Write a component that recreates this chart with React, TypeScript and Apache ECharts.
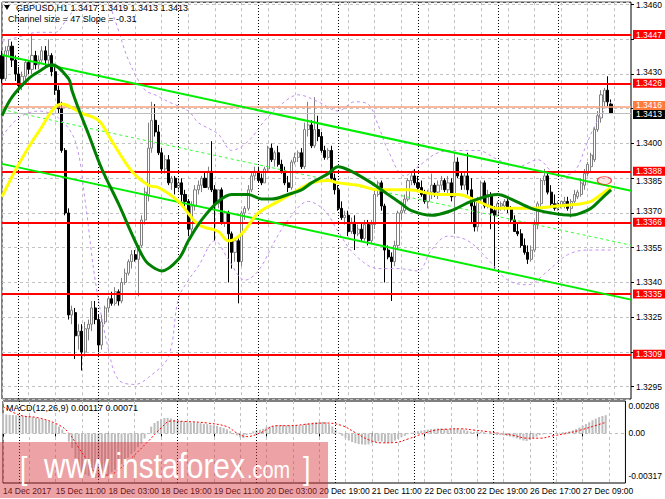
import React, { useEffect, useRef } from "react";
import * as echarts from "echarts";

const FONT = "'Liberation Sans', Arial, sans-serif";
const AXIS_FS = 8.5;

const symbolLabel = "GBPUSD,H1";
const channelLabel = "Channel size = 47 Slope = -0.31";
const macdLabel = "MACD(12,26,9)";

const slotCount = 190;
const xTickStep = 16;
const xTickLabels = [
  "14 Dec 2017", "15 Dec 11:00", "18 Dec 03:00", "18 Dec 19:00", "19 Dec 11:00", "20 Dec 03:00",
  "20 Dec 19:00", "21 Dec 11:00", "22 Dec 03:00", "22 Dec 19:00", "26 Dec 17:00", "27 Dec 09:00",
];
const dayStartIndex = [5, 29, 53, 77, 101, 125, 149, 167];

const openP = [
  1.3438, 1.3428, 1.3440, 1.3442, 1.3436, 1.3430, 1.3425, 1.3429, 1.3435, 1.3432,
  1.3438, 1.3434, 1.3436, 1.3440, 1.3436, 1.3438, 1.3431, 1.3423, 1.3415, 1.3397,
  1.3370, 1.3326, 1.3327, 1.3317, 1.3319, 1.3310, 1.3320, 1.3322, 1.3329, 1.3324,
  1.3313, 1.3323, 1.3329, 1.3333, 1.3331, 1.3336, 1.3332, 1.3340, 1.3344, 1.3349,
  1.3352, 1.3350, 1.3356, 1.3367, 1.3378, 1.3398, 1.3410, 1.3405, 1.3396, 1.3389,
  1.3393, 1.3383, 1.3385, 1.3381, 1.3383, 1.3378, 1.3375, 1.3363, 1.3373, 1.3380,
  1.3382, 1.3385, 1.3381, 1.3388, 1.3380, 1.3374, 1.3380, 1.3366, 1.3370, 1.3361,
  1.3353, 1.3358, 1.3349, 1.3370, 1.3372, 1.3380, 1.3386, 1.3388, 1.3385, 1.3383,
  1.3389, 1.3398, 1.3393, 1.3396, 1.3391, 1.3388, 1.3383, 1.3381, 1.3392, 1.3394,
  1.3396, 1.3390, 1.3406, 1.3408, 1.3399, 1.3406, 1.3403, 1.3397, 1.3394, 1.3397,
  1.3385, 1.3380, 1.3372, 1.3368, 1.3369, 1.3362, 1.3366, 1.3361, 1.3363, 1.3359,
  1.3365, 1.3358, 1.3365, 1.3378, 1.3383, 1.3373, 1.3354, 1.3351, 1.3349, 1.3356,
  1.3370, 1.3371, 1.3376, 1.3384, 1.3386, 1.3383, 1.3381, 1.3378, 1.3375, 1.3379,
  1.3382, 1.3379, 1.3382, 1.3384, 1.3380, 1.3383, 1.3377, 1.3392, 1.3386, 1.3382,
  1.3386, 1.3380, 1.3373, 1.3364, 1.3376, 1.3383, 1.3373, 1.3378, 1.3371, 1.3369,
  1.3373, 1.3373, 1.3375, 1.3372, 1.3367, 1.3362, 1.3361, 1.3356, 1.3353, 1.3350,
  1.3354, 1.3365, 1.3374, 1.3384, 1.3386, 1.3379, 1.3374, 1.3372, 1.3373, 1.3374,
  1.3375, 1.3372, 1.3375, 1.3377, 1.3378, 1.3382, 1.3387, 1.3390, 1.3393, 1.3406,
  1.3411, 1.3418, 1.3423, 1.3417,
];
const highP = [
  1.3440, 1.3442, 1.3445, 1.3444, 1.3438, 1.3433, 1.3431, 1.3436, 1.3436, 1.3447,
  1.3440, 1.3438, 1.3442, 1.3442, 1.3445, 1.3439, 1.3433, 1.3425, 1.3418, 1.3398,
  1.3372, 1.3330, 1.3329, 1.3322, 1.3322, 1.3323, 1.3324, 1.3332, 1.3332, 1.3326,
  1.3326, 1.3330, 1.3334, 1.3336, 1.3338, 1.3337, 1.3342, 1.3346, 1.3350, 1.3354,
  1.3354, 1.3356, 1.3369, 1.3381, 1.3409, 1.3418, 1.3417, 1.3408, 1.3398, 1.3395,
  1.3395, 1.3386, 1.3386, 1.3385, 1.3385, 1.3380, 1.3376, 1.3375, 1.3382, 1.3384,
  1.3386, 1.3388, 1.3390, 1.3401, 1.3382, 1.3380, 1.3381, 1.3371, 1.3371, 1.3362,
  1.3359, 1.3359, 1.3371, 1.3373, 1.3382, 1.3388, 1.3390, 1.3390, 1.3387, 1.3390,
  1.3399, 1.3400, 1.3397, 1.3399, 1.3393, 1.3390, 1.3386, 1.3393, 1.3396, 1.3397,
  1.3398, 1.3409, 1.3418, 1.3410, 1.3420, 1.3412, 1.3405, 1.3399, 1.3398, 1.3399,
  1.3387, 1.3382, 1.3375, 1.3371, 1.3371, 1.3368, 1.3369, 1.3365, 1.3366, 1.3367,
  1.3367, 1.3367, 1.3380, 1.3384, 1.3384, 1.3374, 1.3356, 1.3353, 1.3358, 1.3371,
  1.3373, 1.3378, 1.3385, 1.3388, 1.3389, 1.3386, 1.3384, 1.3380, 1.3380, 1.3387,
  1.3383, 1.3384, 1.3386, 1.3385, 1.3386, 1.3385, 1.3396, 1.3394, 1.3388, 1.3388,
  1.3396, 1.3385, 1.3375, 1.3377, 1.3384, 1.3384, 1.3380, 1.3379, 1.3373, 1.3375,
  1.3375, 1.3376, 1.3376, 1.3373, 1.3369, 1.3366, 1.3363, 1.3359, 1.3356, 1.3356,
  1.3367, 1.3375, 1.3385, 1.3389, 1.3388, 1.3382, 1.3378, 1.3375, 1.3375, 1.3377,
  1.3377, 1.3376, 1.3380, 1.3380, 1.3385, 1.3389, 1.3392, 1.3396, 1.3407, 1.3414,
  1.3423, 1.3424, 1.3429, 1.3419,
];
const lowP = [
  1.3426, 1.3427, 1.3438, 1.3433, 1.3427, 1.3422, 1.3423, 1.3427, 1.3430, 1.3430,
  1.3432, 1.3432, 1.3435, 1.3433, 1.3433, 1.3429, 1.3421, 1.3413, 1.3396, 1.3369,
  1.3324, 1.3322, 1.3307, 1.3311, 1.3302, 1.3308, 1.3315, 1.3319, 1.3322, 1.3310,
  1.3311, 1.3322, 1.3327, 1.3330, 1.3330, 1.3330, 1.3331, 1.3339, 1.3343, 1.3346,
  1.3349, 1.3334, 1.3355, 1.3365, 1.3375, 1.3396, 1.3403, 1.3395, 1.3387, 1.3387,
  1.3382, 1.3380, 1.3378, 1.3379, 1.3375, 1.3373, 1.3360, 1.3361, 1.3371, 1.3378,
  1.3379, 1.3382, 1.3380, 1.3379, 1.3358, 1.3372, 1.3365, 1.3364, 1.3340, 1.3346,
  1.3349, 1.3331, 1.3347, 1.3367, 1.3371, 1.3379, 1.3384, 1.3383, 1.3382, 1.3383,
  1.3388, 1.3392, 1.3390, 1.3390, 1.3387, 1.3382, 1.3379, 1.3380, 1.3391, 1.3392,
  1.3389, 1.3389, 1.3403, 1.3398, 1.3398, 1.3401, 1.3396, 1.3393, 1.3393, 1.3384,
  1.3378, 1.3371, 1.3367, 1.3365, 1.3360, 1.3361, 1.3354, 1.3360, 1.3358, 1.3358,
  1.3356, 1.3357, 1.3363, 1.3377, 1.3371, 1.3340, 1.3350, 1.3332, 1.3347, 1.3354,
  1.3367, 1.3370, 1.3375, 1.3382, 1.3382, 1.3379, 1.3377, 1.3374, 1.3372, 1.3376,
  1.3377, 1.3376, 1.3380, 1.3379, 1.3378, 1.3375, 1.3361, 1.3385, 1.3380, 1.3380,
  1.3378, 1.3366, 1.3362, 1.3362, 1.3375, 1.3372, 1.3372, 1.3363, 1.3346, 1.3369,
  1.3371, 1.3371, 1.3370, 1.3366, 1.3362, 1.3360, 1.3355, 1.3352, 1.3348, 1.3349,
  1.3353, 1.3363, 1.3372, 1.3382, 1.3378, 1.3373, 1.3371, 1.3371, 1.3372, 1.3372,
  1.3371, 1.3368, 1.3373, 1.3376, 1.3377, 1.3380, 1.3386, 1.3388, 1.3392, 1.3405,
  1.3409, 1.3416, 1.3416, 1.3413,
];
const closeP = [
  1.3428, 1.3440, 1.3442, 1.3436, 1.3430, 1.3425, 1.3429, 1.3435, 1.3432, 1.3438,
  1.3434, 1.3436, 1.3440, 1.3436, 1.3438, 1.3431, 1.3423, 1.3415, 1.3397, 1.3370,
  1.3326, 1.3328, 1.3317, 1.3319, 1.3310, 1.3320, 1.3322, 1.3329, 1.3324, 1.3313,
  1.3323, 1.3329, 1.3333, 1.3331, 1.3336, 1.3332, 1.3340, 1.3344, 1.3349, 1.3352,
  1.3350, 1.3356, 1.3367, 1.3379, 1.3398, 1.3410, 1.3405, 1.3396, 1.3389, 1.3393,
  1.3383, 1.3385, 1.3381, 1.3383, 1.3378, 1.3375, 1.3363, 1.3373, 1.3380, 1.3382,
  1.3385, 1.3381, 1.3388, 1.3380, 1.3374, 1.3380, 1.3366, 1.3370, 1.3361, 1.3353,
  1.3358, 1.3349, 1.3370, 1.3372, 1.3380, 1.3386, 1.3388, 1.3384, 1.3383, 1.3389,
  1.3398, 1.3393, 1.3396, 1.3391, 1.3388, 1.3383, 1.3381, 1.3392, 1.3394, 1.3396,
  1.3390, 1.3406, 1.3408, 1.3399, 1.3406, 1.3403, 1.3397, 1.3394, 1.3397, 1.3385,
  1.3380, 1.3372, 1.3368, 1.3369, 1.3362, 1.3366, 1.3361, 1.3363, 1.3359, 1.3365,
  1.3358, 1.3365, 1.3378, 1.3383, 1.3373, 1.3354, 1.3351, 1.3349, 1.3356, 1.3370,
  1.3371, 1.3376, 1.3384, 1.3386, 1.3383, 1.3381, 1.3378, 1.3375, 1.3379, 1.3382,
  1.3379, 1.3382, 1.3384, 1.3380, 1.3383, 1.3377, 1.3392, 1.3386, 1.3382, 1.3386,
  1.3380, 1.3373, 1.3364, 1.3376, 1.3383, 1.3373, 1.3378, 1.3370, 1.3369, 1.3374,
  1.3374, 1.3375, 1.3372, 1.3367, 1.3362, 1.3361, 1.3356, 1.3353, 1.3350, 1.3354,
  1.3365, 1.3374, 1.3384, 1.3386, 1.3379, 1.3374, 1.3372, 1.3374, 1.3375, 1.3375,
  1.3372, 1.3375, 1.3378, 1.3379, 1.3383, 1.3387, 1.3391, 1.3395, 1.3406, 1.3412,
  1.3421, 1.3423, 1.3418, 1.3413,
];

// moving averages: [bar index, price]
const maSlow = [
  [0, 1.3377], [5, 1.3391], [11, 1.3405], [18, 1.3417], [24, 1.3413], [29, 1.3410], [33, 1.3401],
  [39, 1.3388], [44, 1.3382], [47, 1.3381], [53, 1.3375], [59, 1.3365], [65, 1.3362], [68, 1.3358],
  [72, 1.3361], [77, 1.3370], [83, 1.3375], [89, 1.3380], [93, 1.3383], [98, 1.3384], [101, 1.3383],
  [107, 1.3382], [113, 1.3380], [122, 1.3380], [131, 1.3378], [137, 1.3378], [143, 1.3375],
  [149, 1.3372], [159, 1.3372], [167, 1.3373], [174, 1.3374], [177, 1.3375], [180, 1.3378], [183, 1.3381],
];
const maFast = [
  [0, 1.3412], [3, 1.3420], [8, 1.3428], [11, 1.3431], [15, 1.3434], [20, 1.3428], [21, 1.3423],
  [23, 1.3415], [26, 1.3404], [30, 1.3389], [35, 1.3374], [39, 1.3361], [42, 1.3352], [44, 1.3348],
  [48, 1.3345], [53, 1.3350], [56, 1.3358], [60, 1.3367], [65, 1.3375], [69, 1.3378], [74, 1.3378],
  [78, 1.3376], [81, 1.3376], [86, 1.3378], [90, 1.3380], [93, 1.3383], [98, 1.3387], [101, 1.3390],
  [105, 1.3388], [111, 1.3383], [116, 1.3378], [120, 1.3374], [123, 1.3371], [129, 1.3369],
  [135, 1.3371], [141, 1.3375], [149, 1.3378], [153, 1.3376], [159, 1.3372], [165, 1.3370],
  [171, 1.3369], [174, 1.3370], [177, 1.3372], [180, 1.3376], [183, 1.3380],
];
const bandUpper = [
  [0, 1.3444], [5, 1.3446], [11, 1.3448], [16, 1.3448], [20, 1.3455], [25, 1.3462], [29, 1.3470],
  [34, 1.3453], [38, 1.3436], [43, 1.3423], [46, 1.3421], [50, 1.3418], [56, 1.3414], [59, 1.3409],
  [65, 1.3404], [69, 1.3397], [74, 1.3401], [79, 1.3410], [84, 1.3417], [89, 1.3421], [95, 1.3418],
  [101, 1.3414], [106, 1.3418], [110, 1.3417], [113, 1.3408], [116, 1.3397], [121, 1.3386],
  [125, 1.3390], [131, 1.3396], [137, 1.3397], [143, 1.3397], [149, 1.3393], [155, 1.3390],
  [161, 1.3393], [167, 1.3386], [172, 1.3388], [176, 1.3401], [179, 1.3410], [183, 1.3418],
];
const bandLower = [
  [0, 1.3403], [5, 1.3411], [11, 1.3414], [17, 1.3411], [22, 1.3401], [25, 1.3375], [28, 1.3341],
  [32, 1.3311], [35, 1.3298], [40, 1.3296], [44, 1.3299], [50, 1.3308], [53, 1.3333], [56, 1.3341],
  [59, 1.3347], [64, 1.3358], [68, 1.3350], [73, 1.3341], [77, 1.3345], [82, 1.3358], [86, 1.3367],
  [92, 1.3375], [97, 1.3371], [101, 1.3362], [106, 1.3352], [113, 1.3346], [119, 1.3346],
  [125, 1.3345], [129, 1.3354], [134, 1.3360], [140, 1.3358], [146, 1.3350], [152, 1.3341],
  [158, 1.3339], [164, 1.3345], [170, 1.3352], [176, 1.3354], [183, 1.3354],
];
const channelUpper = [[0, 1.34382], [189, 1.33796]];
const channelMid = [[0, 1.34147], [189, 1.33561]];
const channelLower = [[0, 1.33912], [189, 1.33326]];

const redLevels = [1.3447, 1.3426, 1.3388, 1.3366, 1.3335, 1.3309];
const orangeLevel = 1.3416;
const signalMark = [181, 1.3384];

// MACD histogram, in units of 0.00001
const macdHist = [
  130, 122, 120, 118, 116, 114, 112, 110, 106, 104,
  100, 96, 90, 84, 78, 70, 60, 45, 25, 0,
  -52, -93, -157, -215, -250, -262, -272, -280, -285, -283,
  -278, -272, -262, -248, -232, -214, -196, -176, -155, -132,
  -110, -88, -64, -32, 2, 44, 67, 80, 92, 99,
  100, 96, 88, 82, 80, 76, 72, 70, 70, 68,
  66, 62, 60, 56, 52, 48, 42, 36, 26, 15,
  -5, -12, -25, -30, -10, 3, 14, 20, 24, 30,
  40, 44, 48, 52, 54, 54, 52, 50, 50, 50,
  50, 55, 62, 66, 70, 72, 74, 74, 72, 60,
  45, 25, 5, -15, -30, -45, -55, -62, -68, -70,
  -72, -70, -62, -55, -50, -52, -58, -60, -55, -45,
  -35, -25, -15, -5, 5, 10, 15, 18, 22, 25,
  28, 30, 32, 32, 30, 28, 30, 32, 30, 26,
  24, 18, 12, 10, 12, 10, 8, 2, -5, -8,
  -10, -10, -12, -15, -20, -25, -32, -38, -45, -48,
  -42, -32, -20, -10, -5, -3, -2, 0, 2, 5,
  8, 10, 14, 20, 28, 38, 50, 60, 72, 85,
  95, 105, 112, 117,
];
// MACD signal line, [bar index, value in 0.00001]
const macdSignal = [
  [0, 172], [5, 118], [11, 99], [17, 54], [20, 3], [23, -93], [26, -182], [29, -266], [32, -266],
  [35, -234], [39, -157], [44, -52], [48, 35], [51, 80], [56, 76], [62, 67], [68, 44], [71, 3],
  [74, -20], [78, 3], [83, 50], [87, 50], [93, 61], [98, 67], [103, 50], [107, 5], [111, -40],
  [115, -60], [119, -58], [123, -35], [127, -5], [131, 20], [135, 28], [139, 30], [143, 22],
  [147, 12], [151, 0], [155, -12], [159, -30], [163, -30], [167, -15], [171, 0], [175, 20],
  [179, 45], [183, 71],
];
const macdMax = 0.00208;
const macdMin = -0.00317;

const priceBase = 1.3295;
const priceMin = 1.32897;
const priceMax = 1.3461;
const priceStep = 0.0015;

const toV = (p: number) => (p - priceBase) * 10000;
const fmtP = (p: number) => p.toFixed(4);

function buildOption() {
  const categories = Array.from({ length: slotCount }, (_, i) => String(i));
  const candles = openP.map((o, i) => [toV(o), toV(closeP[i]), toV(lowP[i]), toV(highP[i])]);
  const last = openP.length - 1;
  const lastClose = closeP[last];
  const boxLevels = [...redLevels, orangeLevel, lastClose];
  const gridLine = { color: "#c2c2c2", type: [3, 3] as any, width: 1 };
  const isGrid = (i: number) => i % 8 === 0;
  const isTick = (i: number) => i % xTickStep === 0 && i / xTickStep < xTickLabels.length;

  const separators = dayStartIndex.map((i) => ({
    xAxis: i,
    lineStyle: { color: "#000", type: [1, 2] as any, width: 1 },
    label: { show: false },
  }));
  const levelLabel = (bg: string, dy: number) => ({
    show: true,
    position: "end",
    distance: 2,
    color: "#fff",
    backgroundColor: bg,
    padding: [0, 3, 0, 3],
    lineHeight: 9,
    fontSize: AXIS_FS,
    fontFamily: FONT,
    offset: [0, dy],
    formatter: (p: any) => fmtP(priceBase + p.value / 10000),
  });
  const levels = [
    ...redLevels.map((p) => ({
      yAxis: toV(p),
      lineStyle: { color: "#ff0000", width: 2, type: "solid" },
      label: levelLabel("#ff0000", 0),
    })),
    { yAxis: toV(orangeLevel), lineStyle: { color: "#f6a27e", width: 1.5, type: "solid" }, label: levelLabel("#ff7a3d", -1) },
    { yAxis: toV(lastClose), lineStyle: { color: "#bdbdbd", width: 1, type: "solid" }, label: levelLabel("#000000", 1) },
  ];

  const lineS = (data: number[][], color: string, width: number, type: any, smooth: number, z: number) => ({
    type: "line",
    xAxisIndex: 0,
    yAxisIndex: 0,
    data: data.map(([i, p]) => [i, toV(p)]),
    smooth,
    symbol: "none",
    silent: true,
    lineStyle: { color, width, type },
    z,
  });

  const macdMaxPos = macdMax - 5 / (82 / (macdMax - macdMin));
  const macdMinPos = macdMin + 7 / (82 / (macdMax - macdMin));

  const txt = (text: string, x: number, y: number, size: number, fill: string, scaleX: number, z: number) => ({
    type: "text", x, y, z, scaleX,
    style: { text, fill, fontSize: size, fontFamily: FONT, align: "left", verticalAlign: "middle" },
  });
  const richBase = { fontSize: AXIS_FS, fontFamily: FONT, color: "#000" };

  return {
    animation: false,
    backgroundColor: "#ffffff",
    textStyle: { fontFamily: FONT },
    grid: [
      { left: 2, right: 33, top: 1, height: 398, show: true, borderColor: "#000", borderWidth: 1, backgroundColor: "#fff" },
      { left: 2, right: 33, top: 401, height: 82, show: true, borderColor: "#000", borderWidth: 1, backgroundColor: "#fff" },
    ],
    xAxis: [
      {
        type: "category", gridIndex: 0, data: categories, boundaryGap: false,
        axisLine: { show: false }, axisTick: { show: false }, axisLabel: { show: false },
        splitLine: { show: true, interval: (i: number) => isGrid(i), lineStyle: gridLine },
      },
      {
        type: "category", gridIndex: 1, data: categories, boundaryGap: false,
        axisLine: { show: false },
        axisTick: { show: true, interval: (i: number) => isTick(i), length: 3, lineStyle: { color: "#000" } },
        axisLabel: {
          show: true, interval: (i: number) => isTick(i), showMinLabel: true, showMaxLabel: true,
          formatter: (v: string) => xTickLabels[Number(v) / xTickStep] ?? "",
          align: "left", color: "#000", fontSize: AXIS_FS, margin: 3, fontFamily: FONT,
        },
        splitLine: { show: true, interval: (i: number) => isGrid(i), lineStyle: gridLine },
      },
    ],
    yAxis: [
      {
        type: "value", gridIndex: 0, position: "right",
        min: toV(priceMin), max: toV(priceMax),
        minInterval: priceStep * 10000, maxInterval: priceStep * 10000, splitNumber: 11,
        axisLine: { show: false },
        axisTick: { show: true, length: 3, lineStyle: { color: "#000" } },
        axisLabel: {
          showMinLabel: false, showMaxLabel: false, color: "#000", fontSize: AXIS_FS, margin: 5, fontFamily: FONT,
          formatter: (v: number) => {
            const p = priceBase + v / 10000;
            const near = boxLevels.find((b) => Math.abs(b - p) < 0.00049);
            if (near === undefined) return fmtP(p);
            if (Math.abs(near - p) < 0.00025) return "";
            return near > p ? `{dn|${fmtP(p)}}` : `{up|${fmtP(p)}}`;
          },
          rich: {
            dn: { ...richBase, padding: [6, 0, 0, 0] },
            up: { ...richBase, padding: [0, 0, 4, 0] },
          },
        },
        splitLine: { show: true, lineStyle: gridLine },
      },
      {
        type: "value", gridIndex: 1, position: "right", min: macdMin, max: macdMax,
        axisLine: { show: false }, axisTick: { show: false }, splitLine: { show: false },
        axisLabel: {
          customValues: [macdMinPos, 0, macdMaxPos],
          color: "#000", fontSize: AXIS_FS, margin: 3, fontFamily: FONT,
          formatter: (v: number) => (v > 0.0005 ? macdMax.toFixed(5) : v < -0.0005 ? macdMin.toFixed(5) : "0.00"),
        },
      },
    ],
    series: [
      {
        type: "candlestick", xAxisIndex: 0, yAxisIndex: 0, data: candles, barWidth: 2.6, silent: true, z: 3,
        itemStyle: { color: "#ffffff", color0: "#000000", borderColor: "#808080", borderColor0: "#000000", borderWidth: 1 },
        markLine: { symbol: "none", silent: true, animation: false, data: [...separators, ...levels] },
      },
      lineS(bandUpper, "#c28ff0", 1, [3, 3], 0.35, 4),
      lineS(bandLower, "#c28ff0", 1, [3, 3], 0.35, 4),
      lineS(channelMid, "#33ff33", 1, [3, 3], 0, 4),
      lineS(channelUpper, "#00ee00", 2, "solid", 0, 5),
      lineS(channelLower, "#00ee00", 2, "solid", 0, 5),
      lineS(maSlow, "#ffff00", 3, "solid", 0.35, 6),
      lineS(maFast, "#008000", 3, "solid", 0.35, 7),
      {
        type: "scatter", xAxisIndex: 0, yAxisIndex: 0, silent: true, z: 8,
        data: [[signalMark[0], toV(signalMark[1])]],
        symbol: "circle", symbolSize: [14, 8],
        itemStyle: { color: "rgba(255,0,0,0.12)", borderColor: "#ff2020", borderWidth: 1 },
      },
      {
        type: "bar", xAxisIndex: 1, yAxisIndex: 1, silent: true, barWidth: 2,
        data: macdHist.map((v) => v * 0.00001),
        itemStyle: { color: "#bdbdbd" },
        markLine: {
          symbol: "none", silent: true, animation: false,
          data: [{ yAxis: 0, lineStyle: { color: "#bdbdbd", type: [3, 3], width: 1 }, label: { show: false } }, ...separators],
        },
      },
      {
        type: "line", xAxisIndex: 1, yAxisIndex: 1, silent: true, symbol: "none", smooth: 0.4,
        data: macdSignal.map(([i, v]) => [i, v * 0.00001]),
        lineStyle: { color: "#ff0000", width: 1, type: [2, 2] },
        z: 4,
      },
    ],
    graphic: [
      { type: "polygon", shape: { points: [[4, 5], [10, 5], [7, 10]] }, style: { fill: "#000" }, z: 50 },
      txt(`${symbolLabel} ${fmtP(openP[last])} ${fmtP(highP[last])} ${fmtP(lowP[last])} ${fmtP(lastClose)}`, 16, 8, 9, "#000", 1, 50),
      txt(channelLabel, 8, 19, 9, "#000", 1, 50),
      txt(`${macdLabel} ${(macdHist[last] * 0.00001).toFixed(5)} ${(0.00071).toFixed(5)}`, 6, 408, 9, "#000", 1, 50),
      { type: "rect", shape: { x: 0, y: 442, width: 328, height: 56 }, style: { fill: "rgba(215,50,58,0.45)" }, z: 100 },
      txt("[", 20, 468, 32, "#fff", 0.83, 101),
      txt("www.instaforex", 44, 465, 36, "#fff", 0.83, 101),
      txt(".com", 247, 470, 24, "#fff", 0.83, 101),
      txt("]", 303, 468, 32, "#fff", 0.83, 101),
    ],
  };
}

export default function App() {
  const ref = useRef<HTMLDivElement>(null);
  useEffect(() => {
    if (!ref.current) return;
    const chart = echarts.init(ref.current, undefined, { renderer: "svg" });
    chart.setOption(buildOption() as any);
    return () => chart.dispose();
  }, []);
  return <div ref={ref} style={{ position: "absolute", left: 0, top: 0, width: 665, height: 499 }} />;
}
